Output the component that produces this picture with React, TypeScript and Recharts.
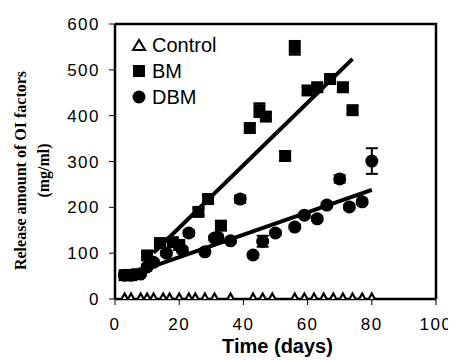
import React from 'react';
import { ComposedChart, Scatter, XAxis, YAxis, ErrorBar } from 'recharts';

const controlDays = [3, 5, 8, 10, 12, 15, 17, 20, 23, 25, 28, 31, 36, 43, 46, 49, 56, 59, 62, 65, 68, 71, 74, 77, 80];

const bmDays = [3, 5, 7, 10, 14, 18, 20, 26, 29, 33, 42, 45, 47, 53, 56, 60, 63, 67, 71, 74];
const bmValues = [52, 52, 54, 95, 122, 124, 118, 190, 218, 160, 373, 412, 398, 312, 548, 455, 462, 480, 462, 412];
const bmErrors = [4, 4, 4, 6, 6, 6, 6, 8, 8, 8, 8, 15, 6, 10, 15, 8, 8, 8, 8, 8];

const dbmDays = [3, 5, 8, 10, 12, 16, 21, 23, 28, 31, 32, 36, 39, 43, 46, 50, 56, 59, 63, 66, 70, 73, 77, 80];
const dbmValues = [52, 52, 55, 70, 80, 100, 107, 144, 103, 133, 135, 127, 218, 96, 126, 144, 157, 183, 175, 205, 262, 201, 212, 301];
const dbmErrors = [4, 4, 4, 5, 5, 5, 5, 6, 5, 5, 5, 5, 8, 5, 12, 5, 5, 5, 5, 5, 8, 5, 5, 28];

const bmFitDays = [12, 74];
const bmFitValues = [101, 524];
const dbmFitDays = [10, 80];
const dbmFitValues = [67, 238];

const xTicks = [0, 20, 40, 60, 80, 100];
const yTicks = [0, 100, 200, 300, 400, 500, 600];

const controlData = controlDays.map((x) => ({ x, y: 0 }));
const bmData = bmDays.map((x, i) => ({ x, y: bmValues[i], err: bmErrors[i] }));
const dbmData = dbmDays.map((x, i) => ({ x, y: dbmValues[i], err: dbmErrors[i] }));
const bmFit = bmFitDays.map((x, i) => ({ x, y: bmFitValues[i] }));
const dbmFit = dbmFitDays.map((x, i) => ({ x, y: dbmFitValues[i] }));

const W = 448;
const H = 352;
const M = { top: 16, right: 20, bottom: 0, left: 0 };
const X_AXIS_H = 61;
const Y_AXIS_W = 107;

const SquareShape = (p: any) => <rect x={p.cx - 6} y={p.cy - 6} width={12} height={12} fill="#000" />;
const CircleShape = (p: any) => <circle cx={p.cx} cy={p.cy} r={6.5} fill="#000" />;
const TriShape = (p: any) => (
  <polygon
    points={`${p.cx - 5.5},${p.cy + 4.5} ${p.cx + 5.5},${p.cy + 4.5} ${p.cx},${p.cy - 5.5}`}
    fill="#fff"
    stroke="#000"
    strokeWidth={2.2}
  />
);
const NoShape = () => null;

const tickFont = { fontFamily: 'Liberation Sans, Arial, sans-serif', fontSize: 17, fill: '#000', letterSpacing: 1.5 };

const YLabel = (props: any) => {
  const vb = props.viewBox;
  const cy = vb.y + vb.height / 2 + 9;
  const style = { fontFamily: 'Liberation Serif, Times New Roman, serif', fontWeight: 'bold' as const, fontSize: 16, fill: '#000' };
  return (
    <g>
      <text x={12} y={cy} transform={`rotate(-90 12 ${cy})`} textAnchor="middle" dominantBaseline="central" style={style}>
        Release amount of OI factors
      </text>
      <text x={35} y={cy} transform={`rotate(-90 35 ${cy})`} textAnchor="middle" dominantBaseline="central" style={style}>
        (mg/ml)
      </text>
    </g>
  );
};

const XLabel = (props: any) => {
  const vb = props.viewBox;
  return (
    <text
      x={vb.x + vb.width / 2 + 2}
      y={vb.y + 54}
      textAnchor="middle"
      style={{ fontFamily: 'Liberation Sans, Arial, sans-serif', fontWeight: 'bold', fontSize: 20, fill: '#000' }}
    >
      Time (days)
    </text>
  );
};

const legendItems = [
  { label: 'Control', kind: 'tri' },
  { label: 'BM', kind: 'sq' },
  { label: 'DBM', kind: 'circ' },
];

const plotLeft = M.left + Y_AXIS_W;
const plotTop = M.top;
const plotW = W - plotLeft - M.right;
const plotH = H - M.top - M.bottom - X_AXIS_H;

export default function App() {
  return (
    <div style={{ position: 'relative', width: W, height: H }}>
      <svg
        width={W}
        height={H}
        style={{ position: 'absolute', left: 0, top: 0, zIndex: 5, pointerEvents: 'none' }}
      >
        <path
          d={`M${plotLeft},${plotTop} L${plotLeft + plotW},${plotTop} L${plotLeft + plotW},${plotTop + plotH}`}
          fill="none"
          stroke="#000"
          strokeWidth={2.5}
        />
      </svg>
      <ComposedChart width={W} height={H} margin={M}>
        <XAxis
          dataKey="x"
          type="number"
          domain={[0, 100]}
          ticks={xTicks}
          tickSize={6}
          tickMargin={13}
          height={X_AXIS_H}
          tick={tickFont}
          axisLine={{ stroke: '#000', strokeWidth: 2.5 }}
          tickLine={{ stroke: '#000', strokeWidth: 1 }}
          label={<XLabel />}
          allowDataOverflow
        />
        <YAxis
          dataKey="y"
          type="number"
          domain={[0, 600]}
          ticks={yTicks}
          tickSize={6}
          tickMargin={9}
          width={Y_AXIS_W}
          tick={tickFont}
          axisLine={{ stroke: '#000', strokeWidth: 2.5 }}
          tickLine={{ stroke: '#000', strokeWidth: 1 }}
          label={<YLabel />}
          allowDataOverflow
        />
        <Scatter data={bmFit} line={{ stroke: '#000', strokeWidth: 4 }} shape={<NoShape />} isAnimationActive={false} />
        <Scatter data={dbmFit} line={{ stroke: '#000', strokeWidth: 4 }} shape={<NoShape />} isAnimationActive={false} />
        <Scatter data={bmData} shape={<SquareShape />} isAnimationActive={false}>
          <ErrorBar dataKey="err" direction="y" width={6} stroke="#000" strokeWidth={2} />
        </Scatter>
        <Scatter data={dbmData} shape={<CircleShape />} isAnimationActive={false}>
          <ErrorBar dataKey="err" direction="y" width={6} stroke="#000" strokeWidth={2} />
        </Scatter>
        <Scatter data={controlData} shape={<TriShape />} isAnimationActive={false} />
      </ComposedChart>
      <div style={{ position: 'absolute', left: 123, top: 24, zIndex: 6, fontFamily: 'Liberation Sans, Arial, sans-serif', fontSize: 20, color: '#000' }}>
        {legendItems.map((it) => (
          <div key={it.label} style={{ display: 'flex', alignItems: 'center', height: 26 }}>
            <svg width={16} height={16} style={{ marginRight: 5 }}>
              {it.kind === 'tri' && <polygon points="2,13 14,13 8,3" fill="#fff" stroke="#000" strokeWidth={2} />}
              {it.kind === 'sq' && <rect x={2} y={2} width={12} height={12} fill="#000" />}
              {it.kind === 'circ' && <circle cx={8} cy={8} r={6.5} fill="#000" />}
            </svg>
            <span>{it.label}</span>
          </div>
        ))}
      </div>
    </div>
  );
}
